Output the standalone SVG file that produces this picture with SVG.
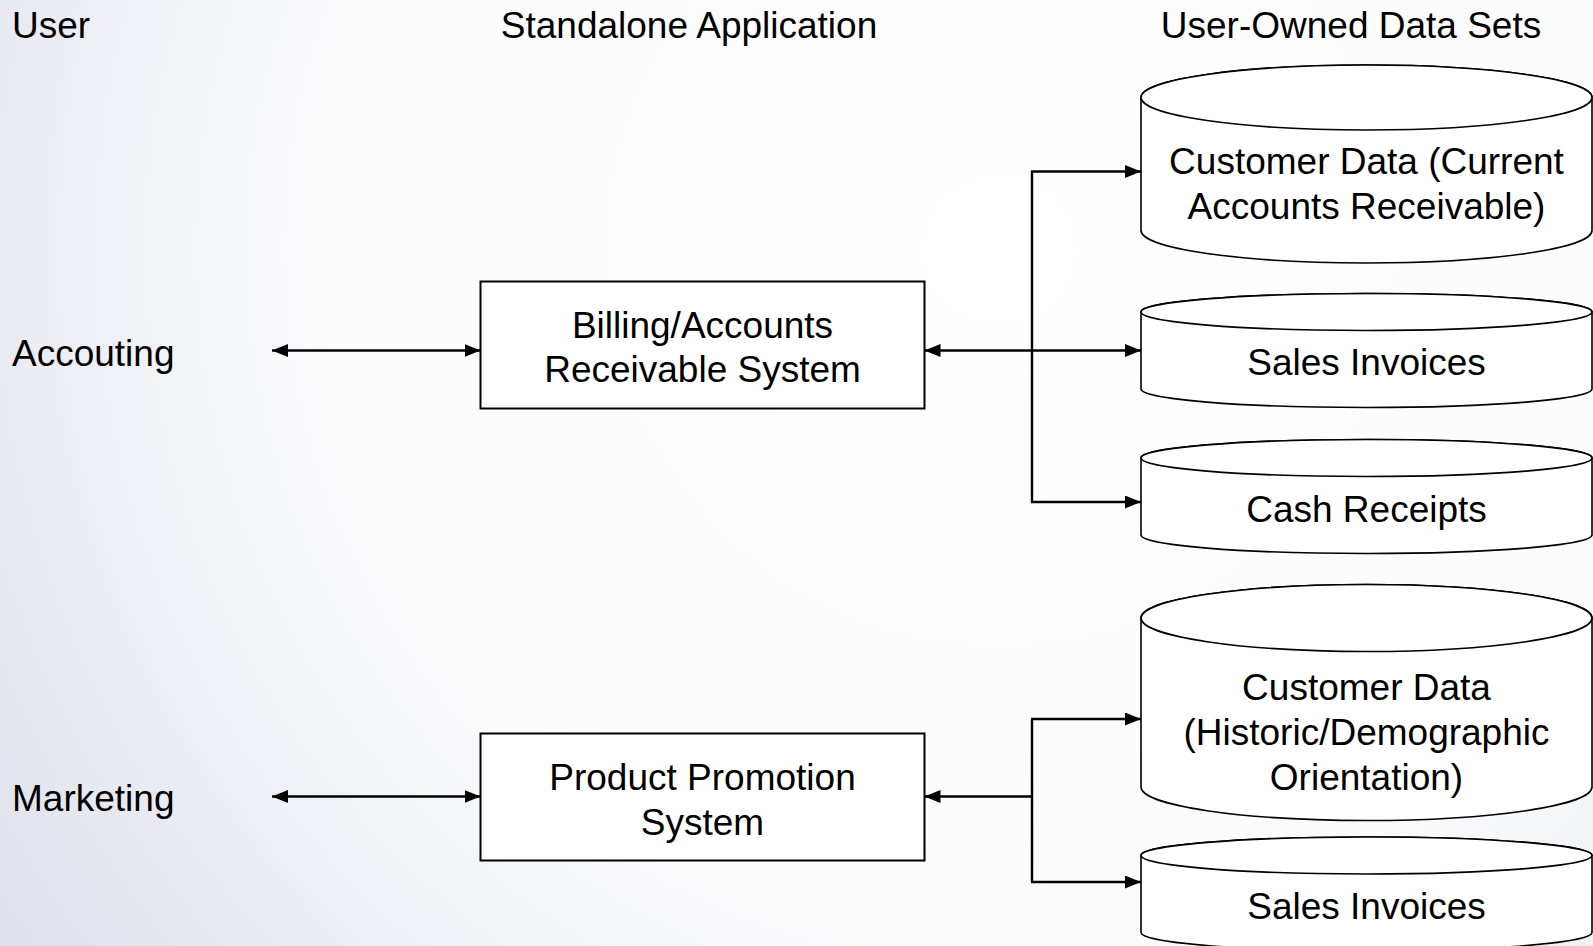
<svg xmlns="http://www.w3.org/2000/svg" width="1593" height="946" viewBox="0 0 1593 946">
  <style>
    text { font-family: "Liberation Sans", Arial, sans-serif; font-size: 37px; fill: #000; }
    .mid { text-anchor: middle; }
    .box { fill: #fff; stroke: #000; stroke-width: 2; }
    .cyl { fill: #fff; stroke: #000; stroke-width: 1.6; }
    .link { fill: none; stroke: #000; stroke-width: 2.4; }
  </style>
  <defs>
    <radialGradient id="bg" gradientUnits="userSpaceOnUse" cx="1000" cy="250" r="1250">
      <stop offset="0" stop-color="#ffffff"/>
      <stop offset="0.55" stop-color="#fbfbfc"/>
      <stop offset="1" stop-color="#dcdfea"/>
    </radialGradient>
    <marker id="arrow" viewBox="0 0 16 13" refX="16" refY="6.5" markerWidth="16" markerHeight="13" markerUnits="userSpaceOnUse" orient="auto-start-reverse">
      <path d="M0,0 L16,6.5 L0,13 Z" fill="#000"/>
    </marker>
  </defs>

  <rect x="0" y="0" width="1593" height="946" fill="url(#bg)"/>

  <!-- column headings -->
  <g id="headings">
    <text x="12" y="38">User</text>
    <text class="mid" x="689" y="38">Standalone Application</text>
    <text class="mid" x="1351" y="38">User-Owned Data Sets</text>
  </g>

  <!-- users -->
  <g id="user-accounting">
    <text x="12" y="366">Accouting</text>
  </g>
  <g id="user-marketing">
    <text x="12" y="811">Marketing</text>
  </g>

  <!-- applications -->
  <g id="app-billing">
    <rect class="box" x="480.5" y="281.5" width="444" height="127"/>
    <text class="mid" x="702.5" y="338">Billing/Accounts</text>
    <text class="mid" x="702.5" y="382">Receivable System</text>
  </g>
  <g id="app-promotion">
    <rect class="box" x="480.5" y="733.5" width="444" height="127"/>
    <text class="mid" x="702.5" y="790">Product Promotion</text>
    <text class="mid" x="702.5" y="835">System</text>
  </g>

  <!-- data sets (cylinders: x 1141..1592) -->
  <g id="ds-customer-current">
    <path class="cyl" d="M1141,97.5 A225.5,32.5 0 0 1 1592,97.5 L1592,230.5 A225.5,32.5 0 0 1 1141,230.5 Z"/>
    <ellipse class="cyl" cx="1366.5" cy="97.5" rx="225.5" ry="32.5"/>
    <text class="mid" x="1366.5" y="174">Customer Data (Current</text>
    <text class="mid" x="1366.5" y="218.5">Accounts Receivable)</text>
  </g>
  <g id="ds-sales-invoices-1">
    <path class="cyl" d="M1141,312 A225.5,18.5 0 0 1 1592,312 L1592,389 A225.5,18.5 0 0 1 1141,389 Z"/>
    <ellipse class="cyl" cx="1366.5" cy="312" rx="225.5" ry="18.5"/>
    <text class="mid" x="1366.5" y="375">Sales Invoices</text>
  </g>
  <g id="ds-cash-receipts">
    <path class="cyl" d="M1141,458 A225.5,18.5 0 0 1 1592,458 L1592,535 A225.5,18.5 0 0 1 1141,535 Z"/>
    <ellipse class="cyl" cx="1366.5" cy="458" rx="225.5" ry="18.5"/>
    <text class="mid" x="1366.5" y="522">Cash Receipts</text>
  </g>
  <g id="ds-customer-historic">
    <path class="cyl" d="M1141,618 A225.5,33.5 0 0 1 1592,618 L1592,787 A225.5,33.5 0 0 1 1141,787 Z"/>
    <ellipse class="cyl" cx="1366.5" cy="618" rx="225.5" ry="33.5"/>
    <text class="mid" x="1366.5" y="700">Customer Data</text>
    <text class="mid" x="1366.5" y="745">(Historic/Demographic</text>
    <text class="mid" x="1366.5" y="789.5">Orientation)</text>
  </g>
  <g id="ds-sales-invoices-2">
    <path class="cyl" d="M1141,855.5 A225.5,18.5 0 0 1 1592,855.5 L1592,932.5 A225.5,18.5 0 0 1 1141,932.5 Z"/>
    <ellipse class="cyl" cx="1366.5" cy="855.5" rx="225.5" ry="18.5"/>
    <text class="mid" x="1366.5" y="918.5">Sales Invoices</text>
  </g>

  <!-- connectors -->
  <g id="connectors">
    <line class="link" x1="272" y1="350.5" x2="480.5" y2="350.5" marker-start="url(#arrow)" marker-end="url(#arrow)"/>
    <line class="link" x1="272" y1="796.5" x2="480.5" y2="796.5" marker-start="url(#arrow)" marker-end="url(#arrow)"/>

    <line class="link" x1="924.5" y1="350.5" x2="1141" y2="350.5" marker-start="url(#arrow)" marker-end="url(#arrow)"/>
    <line class="link" x1="1032" y1="171.5" x2="1032" y2="502"/>
    <line class="link" x1="1031" y1="171.5" x2="1141" y2="171.5" marker-end="url(#arrow)"/>
    <line class="link" x1="1031" y1="502" x2="1141" y2="502" marker-end="url(#arrow)"/>

    <line class="link" x1="1032" y1="796.5" x2="924.5" y2="796.5" marker-end="url(#arrow)"/>
    <line class="link" x1="1032" y1="719" x2="1032" y2="882"/>
    <line class="link" x1="1031" y1="719" x2="1141" y2="719" marker-end="url(#arrow)"/>
    <line class="link" x1="1031" y1="882" x2="1141" y2="882" marker-end="url(#arrow)"/>
  </g>
</svg>
